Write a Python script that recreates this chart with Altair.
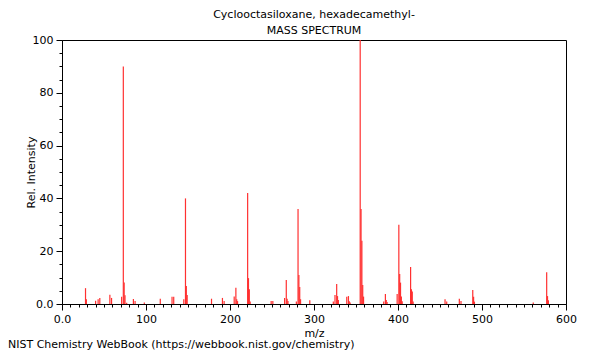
import altair as alt
import pandas as pd

title_lines = ["Cyclooctasiloxane, hexadecamethyl-", "MASS SPECTRUM"]
footer_text = "NIST Chemistry WebBook (https://webbook.nist.gov/chemistry)"
x_title = "m/z"
y_title = "Rel. Intensity"

mz = [28, 29, 40, 43, 45, 57, 59, 71, 73, 74, 75, 77, 85, 87, 98, 117, 131, 133,
      145, 147, 148, 149, 178, 191, 193, 205, 207, 208, 209, 221, 222, 223, 224,
      249, 251, 265, 267, 268, 269, 279, 281, 282, 283, 284, 295, 323, 325, 327,
      328, 329, 339, 341, 342, 343, 355, 356, 357, 358, 359, 383, 385, 386, 387,
      399, 401, 402, 403, 404, 405, 415, 416, 417, 418, 456, 458, 473, 475, 489,
      490, 491, 561, 577, 578, 579]
intensity = [6.0, 1.8, 1.2, 1.8, 2.3, 3.5, 2.3, 2.7, 90, 8.1, 3.3, 0.5, 1.9, 1.1, 0.6, 2.0, 2.7, 2.7,
             1.8, 40, 6.8, 3.4, 2.0, 2.3, 1.1, 2.8, 6.2, 1.8, 1.1, 42, 9.8, 5.6, 0.9,
             1.1, 1.1, 2.3, 9.1, 2.0, 1.1, 0.9, 36, 11, 6.4, 1.8, 1.4, 0.9, 3.4, 7.6,
             3.0, 1.5, 2.7, 3.0, 1.0, 0.6, 100, 36, 24, 7.2, 2.8, 0.9, 3.8, 1.5, 0.8,
             3.8, 30, 11.4, 8.1, 2.8, 1.0, 14, 5.6, 4.7, 0.9, 1.8, 0.9, 2.0, 1.1, 5.3,
             2.7, 0.9, 0.6, 12, 3.0, 1.4]

x_major = [0, 100, 200, 300, 400, 500, 600]
x_minor = [v for v in range(0, 601, 10) if v % 100 != 0]
y_major = [0, 20, 40, 60, 80, 100]
y_minor = [v for v in range(0, 101, 5) if v % 20 != 0]

df = pd.DataFrame({"mz": mz, "intensity": intensity})

xscale = alt.Scale(domain=[0, 600], nice=False, zero=False)
yscale = alt.Scale(domain=[0, 100], nice=False)
label_expr = "datum.value == 0 ? '0.0' : format(datum.value, 'd')"

peaks = alt.Chart(df).mark_rule(color="#ff3030", strokeWidth=1.2).encode(
    x=alt.X("mz:Q", scale=xscale,
            axis=alt.Axis(values=x_major, labelExpr=label_expr, tickSize=6, grid=False,
                          title=x_title, titlePadding=3, labelPadding=3, orient="bottom",
                          titleFontWeight="normal", titleFontSize=11, labelFontSize=11,
                          domainColor="#000", tickColor="#000", labelColor="#000",
                          titleColor="#000", labelFlush=False)),
    y=alt.Y("intensity:Q", scale=yscale,
            axis=alt.Axis(values=y_major, labelExpr=label_expr, tickSize=6, grid=False,
                          title=y_title, titleX=-31, titleY=132, titleBaseline="middle",
                          titleAlign="center", labelPadding=3, orient="left",
                          titleFontWeight="normal", titleFontSize=11, labelFontSize=11,
                          domainColor="#000", tickColor="#000", labelColor="#000",
                          titleColor="#000", labelFlush=False)),
    y2=alt.datum(0),
)

minor = alt.Chart(df).mark_rule(opacity=0).encode(
    x=alt.X("mz:Q", scale=xscale,
            axis=alt.Axis(values=x_minor, labels=False, domain=False, tickSize=3,
                          grid=False, title=None, orient="bottom", tickColor="#000")),
    y=alt.Y("intensity:Q", scale=yscale,
            axis=alt.Axis(values=y_minor, labels=False, domain=False, tickSize=3,
                          grid=False, title=None, orient="left", tickColor="#000")),
)

footer = alt.Chart(pd.DataFrame({"t": [footer_text]})).mark_text(
    align="left", baseline="alphabetic", fontSize=11, font="DejaVu Sans", color="#000"
).encode(text="t:N", x=alt.value(-54), y=alt.value(308))

chart = alt.layer(peaks, minor, footer).resolve_axis(
    x="independent", y="independent"
).properties(
    width=504,
    height=264,
    autosize=alt.AutoSizeParams(type="none"),
    padding={"left": 54, "top": 32, "right": 26, "bottom": 48},
    title=alt.Title(text=title_lines, fontSize=11, fontWeight="normal", font="DejaVu Sans",
                    anchor="middle", offset=5, dy=7, lineHeight=16, color="#000"),
).configure(
    font="DejaVu Sans"
).configure_view(
    stroke="#000", strokeWidth=1
)

chart.save("out.html", embed_options={"renderer": "svg", "actions": False})
